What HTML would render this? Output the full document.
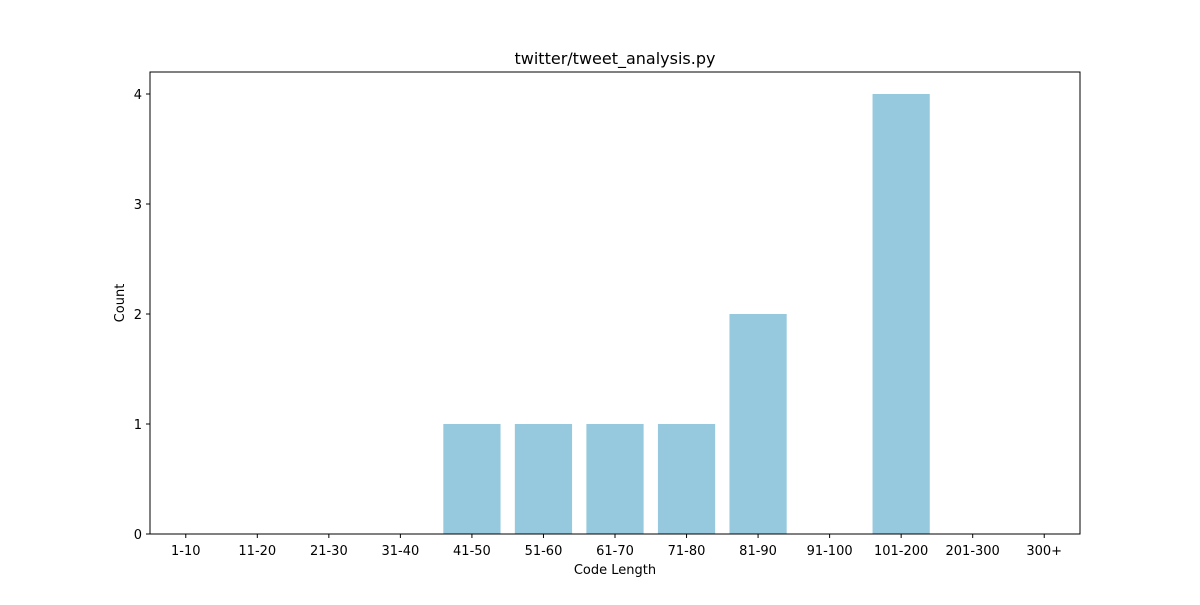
<!DOCTYPE html>
<html><head><meta charset="utf-8"><style>
body{margin:0;background:#fff;font-family:"Liberation Sans","DejaVu Sans",sans-serif;}
svg text{font-family:"DejaVu Sans","Liberation Sans",sans-serif;}
</style></head><body>
<svg id="c" width="1200" height="600" xmlns="http://www.w3.org/2000/svg"></svg>
<script>
const categories=["1-10","11-20","21-30","31-40","41-50","51-60","61-70","71-80","81-90","91-100","101-200","201-300","300+"];
const counts=[0,0,0,0,1,1,1,1,2,0,4,0,0];
const yTicks=[0,1,2,3,4];
const L=150,R=1080,T=72,B=534;
const xs=i=>L+(i+0.5)*(R-L)/categories.length;
const unit=(R-L)/categories.length;
const ys=v=>B-(v/4.2)*(B-T);
const svg=document.getElementById('c');
const NS="http://www.w3.org/2000/svg";
function mk(tag,attrs,text){const e=document.createElementNS(NS,tag);for(const k in attrs)e.setAttribute(k,attrs[k]);if(text!==undefined)e.textContent=text;svg.appendChild(e);return e;}
counts.forEach((v,i)=>{
 const r=mk('rect',{x:xs(i)-0.4*unit,y:ys(v),width:0.8*unit,height:B-ys(v),fill:'#96c9dd'});
 
 
});
const ax=mk('rect',{x:L,y:T,width:R-L,height:B-T,fill:'none',stroke:'#000','stroke-width':1});


categories.forEach((c,i)=>{
 mk('line',{x1:xs(i),x2:xs(i),y1:B,y2:B+4,stroke:'#000'});
 const t=mk('text',{x:xs(i),y:B+21,'text-anchor':'middle','font-size':13},c);
 
 
});
yTicks.forEach(v=>{
 mk('line',{x1:L-4,x2:L,y1:ys(v),y2:ys(v),stroke:'#000'});
 const t=mk('text',{x:L-8,y:ys(v)+5,'text-anchor':'end','font-size':13},v);
 
 
});
const xt=mk('text',{x:(L+R)/2,y:574,'text-anchor':'middle','font-size':13},'Code Length');


const yt=mk('text',{x:124,y:(T+B)/2,'text-anchor':'middle','font-size':13,transform:'rotate(-90 124 '+((T+B)/2)+')'},'Count');


const tt=mk('text',{x:(L+R)/2,y:64,'text-anchor':'middle','font-size':16},'twitter/tweet_analysis.py');


</script>
</body></html>
